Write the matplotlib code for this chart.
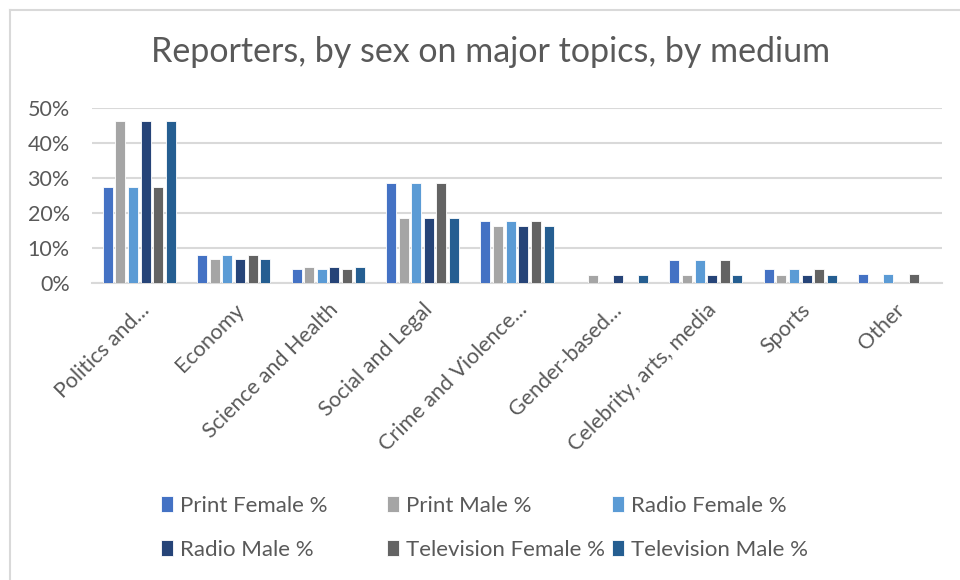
import numpy as np
import matplotlib
matplotlib.use("Agg")
import matplotlib.pyplot as plt
from matplotlib.lines import Line2D
from matplotlib.ticker import PercentFormatter

plt.rcParams.update({
    "font.family": ["Lato", "DejaVu Sans"],
    "text.color": "#595959",
    "xtick.color": "#595959",
    "ytick.color": "#595959",
})

TOPICS = ["Politics and...", "Economy", "Science and Health", "Social and Legal",
          "Crime and Violence...", "Gender-based...", "Celebrity, arts, media",
          "Sports", "Other"]

SERIES = ["Print Female %", "Print Male %", "Radio Female %",
          "Radio Male %", "Television Female %", "Television Male %"]
COLORS = ["#4472C4", "#A5A5A5", "#5B9BD5", "#264478", "#636363", "#255E91"]

# shares of reporters per topic (fractions)
print_female = [0.273, 0.081, 0.039, 0.287, 0.176, 0.000, 0.067, 0.039, 0.026]
print_male = [0.464, 0.068, 0.045, 0.185, 0.162, 0.022, 0.022, 0.022, 0.000]
radio_female = [0.273, 0.081, 0.039, 0.287, 0.176, 0.000, 0.067, 0.039, 0.026]
radio_male = [0.464, 0.068, 0.045, 0.185, 0.162, 0.022, 0.022, 0.022, 0.000]
tv_female = [0.273, 0.081, 0.039, 0.287, 0.176, 0.000, 0.067, 0.039, 0.026]
tv_male = [0.464, 0.068, 0.045, 0.185, 0.162, 0.022, 0.022, 0.022, 0.000]

VALUES = [print_female, print_male, radio_female, radio_male, tv_female, tv_male]

W, H = 960, 580
fig = plt.figure(figsize=(W / 100, H / 100), dpi=100)
ax = fig.add_axes([92 / W, 1 - 283 / H, 850 / W, 175 / H])

x = np.arange(len(TOPICS))
step = 0.1335
bars = []
for j, (name, vals, col) in enumerate(zip(SERIES, VALUES, COLORS)):
    b = ax.bar(x + (j - 2.5) * step, vals, width=0.106, color=col,
               edgecolor="white", linewidth=0.6, label=name, zorder=3)
    bars.append(b)

ax.set_xlim(-0.5, len(TOPICS) - 0.5)
ax.set_ylim(0, 0.5)
ax.set_yticks(np.arange(0, 0.51, 0.1))
ax.yaxis.set_major_formatter(PercentFormatter(1.0, decimals=0))
ax.grid(axis="y", color="#D9D9D9", linewidth=1.5, zorder=0)
for s in ["top", "right", "left"]:
    ax.spines[s].set_visible(False)
ax.spines["bottom"].set_color("#D9D9D9")
ax.spines["bottom"].set_linewidth(1.5)
ax.tick_params(length=0, labelsize=15.5)
ax.tick_params(axis="y", pad=16)
ax.set_xticks(x)
ax.set_xticklabels(TOPICS, rotation=45, ha="right", rotation_mode="anchor")
ax.tick_params(axis="x", pad=12)

fig.text(491 / W, 1 - 52 / H, "Reporters, by sex on major topics, by medium",
         ha="center", va="center", fontsize=24.5, color="#595959")

# legend laid out on a fixed 3-column grid
legend_pos = [(161, 506), (387, 506), (612, 506),
              (161, 550), (387, 550), (612, 550)]
for b, name, (lx, ly) in zip(bars, SERIES, legend_pos):
    fig.legend(handles=[b], labels=[name], loc="center left",
               bbox_to_anchor=(lx / W, 1 - ly / H), frameon=False,
               fontsize=16, handlelength=0.55, handleheight=0.7,
               handletextpad=0.3, borderpad=0, borderaxespad=0,
               labelcolor="#595959")

# chart border
border = dict(color="#D9D9D9", linewidth=1.5, transform=fig.transFigure)
fig.add_artist(Line2D([10 / W, 1.0], [1 - 10 / H, 1 - 10 / H], **border))
fig.add_artist(Line2D([10 / W, 10 / W], [0.0, 1 - 10 / H], **border))

fig.savefig("out.png", dpi=100)
